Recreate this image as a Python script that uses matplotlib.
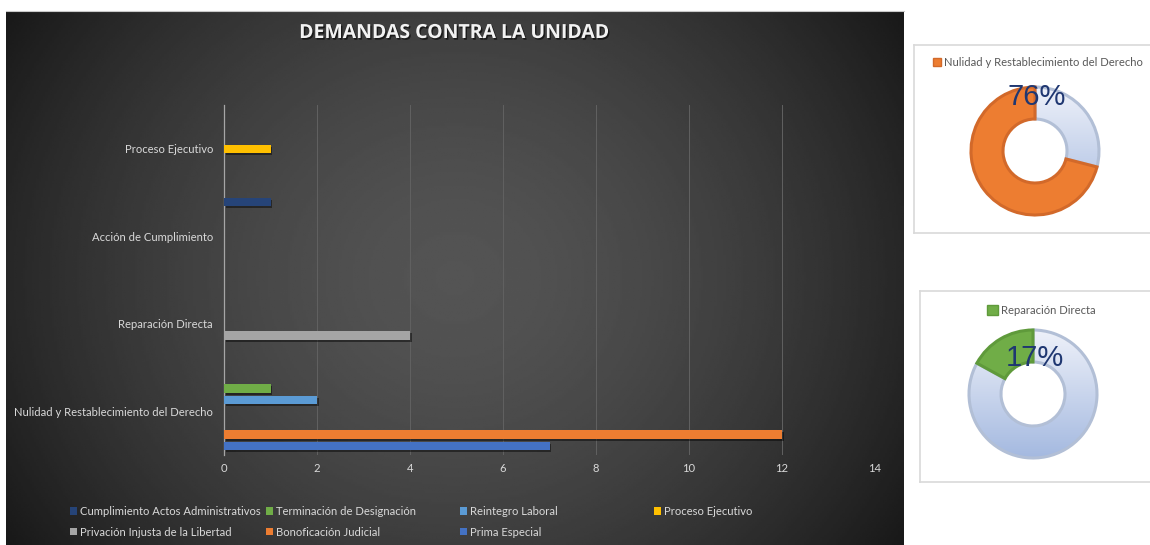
import numpy as np
import matplotlib
matplotlib.use("Agg")
import matplotlib.pyplot as plt
import matplotlib.patheffects as pe
from matplotlib.patches import Patch
from matplotlib.colors import LinearSegmentedColormap

# ---- data ----
categories = ['Nulidad y Restablecimiento del Derecho', 'Reparación Directa',
              'Acción de Cumplimiento', 'Proceso Ejecutivo']
# series in drawing order, bottom to top inside each category
series_names = ['Prima Especial', 'Bonoficación Judicial', 'Privación Injusta de la Libertad',
                'Proceso Ejecutivo', 'Reintegro Laboral', 'Terminación de Designación',
                'Cumplimiento Actos Administrativos']
prima = [7, 0, 0, 0]
bonificacion = [12, 0, 0, 0]
privacion = [0, 4, 0, 0]
proceso = [0, 0, 0, 1]
reintegro = [2, 0, 0, 0]
terminacion = [1, 0, 0, 0]
cumplimiento = [0, 0, 1, 0]
series_values = [prima, bonificacion, privacion, proceso, reintegro, terminacion, cumplimiento]
series_colors = ['#4472c4', '#ed7d31', '#a5a5a5', '#ffc000', '#5b9bd5', '#70ad47', '#264478']
x_ticks = [0, 2, 4, 6, 8, 10, 12, 14]

# legend columns (Excel order, row by row)
legend_cols = [['Cumplimiento Actos Administrativos', 'Privación Injusta de la Libertad'],
               ['Terminación de Designación', 'Bonoficación Judicial'],
               ['Reintegro Laboral', 'Prima Especial'],
               ['Proceso Ejecutivo']]

donut1_name = 'Nulidad y Restablecimiento del Derecho'
donut1_values = [29, 71]   # resto, Nulidad
donut1_text = '76%'
donut2_name = 'Reparación Directa'
donut2_values = [83, 17]   # resto, Reparación
donut2_text = '17%'

W, H = 1150, 545
FS = 8.1
plt.rcParams['font.family'] = ['Lato', 'DejaVu Sans']
fig = plt.figure(figsize=(W / 100, H / 100), dpi=100)
fig.patch.set_facecolor('white')


def fx(px):
    return px / W


def fy(py):
    return 1 - py / H


# ---- dark panel with radial gradient ----
bg = fig.add_axes([fx(6), 0, fx(904 - 6), 1 - 11 / H])
bg.set_zorder(-1)
gx, gy = np.meshgrid(np.linspace(-1, 1, 400), np.linspace(-1, 1, 240))
r = np.sqrt(gx ** 2 + (0.65 * gy) ** 2)
shade = (84 - 45 * r ** 1.6) / 255
bg.imshow(shade, cmap='gray', vmin=0, vmax=1, aspect='auto', extent=[0, 1, 0, 1])
bg.set_xticks([])
bg.set_yticks([])
for s in ['left', 'right', 'bottom']:
    bg.spines[s].set_visible(False)
bg.spines['top'].set_color('#c8c8c8')

fig.text(fx(455), fy(33), 'DEMANDAS CONTRA LA UNIDAD', ha='center', va='center',
         fontsize=14, fontweight='bold', color='#f2f2f2', family=['Open Sans', 'DejaVu Sans'],
         path_effects=[pe.withSimplePatchShadow(offset=(1, -1.2), shadow_rgbFace='black', alpha=0.6)])

# ---- bar chart ----
ax = fig.add_axes([fx(224), fy(455), fx(875 - 224), (455 - 105) / H])
ax.patch.set_alpha(0)
slot = 11.5 / 87.5
bar_h = 8.5 / 87.5
ypos = np.arange(len(categories))
for j, (name, vals, col) in enumerate(zip(series_names, series_values, series_colors)):
    ax.barh(ypos + (j - 3) * slot, vals, height=bar_h, color=col, linewidth=0, label=name,
            zorder=3,
            path_effects=[pe.withSimplePatchShadow(offset=(1.2, -1.5), shadow_rgbFace='black', alpha=0.45),
                          pe.Normal()])

ax.set_xlim(0, 14)
ax.set_ylim(-0.5, 3.5)
ax.set_xticks(x_ticks)
ax.set_yticks(ypos)
ax.set_yticklabels(categories)
ax.tick_params(axis='both', length=0, colors='#d9d9d9', labelsize=FS)
ax.tick_params(axis='y', pad=8)
ax.tick_params(axis='x', pad=6)
ax.grid(axis='x', color='#616161', linewidth=0.7, zorder=0)
for s in ['top', 'right', 'bottom']:
    ax.spines[s].set_visible(False)
ax.spines['left'].set_color('#a6a6a6')
ax.spines['left'].set_linewidth(0.9)

color_of = dict(zip(series_names, series_colors))
for i, (col_x, names) in enumerate(zip([70, 266, 460, 654], legend_cols)):
    handles = [Patch(facecolor=color_of[n], edgecolor='none') for n in names]
    fig.legend(handles, names, loc='upper left', bbox_to_anchor=(fx(col_x), fy(506)),
               frameon=False, fontsize=FS, labelcolor='#d9d9d9', handlelength=0.6,
               handleheight=0.6, handletextpad=0.3, labelspacing=0.85,
               borderpad=0, borderaxespad=0)

# ---- donut boxes ----
for (x0, y0, x1, y1) in [(914, 45, 1152, 233), (920, 291, 1152, 482)]:
    box = fig.add_axes([fx(x0), fy(y1), fx(x1 - x0), (y1 - y0) / H])
    box.set_facecolor('white')
    box.set_xticks([])
    box.set_yticks([])
    for s in box.spines.values():
        s.set_color('#d9d9d9')
        s.set_linewidth(1.2)

blue_cmap = LinearSegmentedColormap.from_list('blue_grad', ['#eef1f9', '#a4b9e0'])


def donut(cx, cy, values, main_color, main_edge, text, text_dy, name, leg_x, leg_y, square):
    rad = 64
    dax = fig.add_axes([fx(cx - rad * 1.05), fy(cy + rad * 1.05), fx(2 * rad * 1.05), 2 * rad * 1.05 / H])
    dax.axis('off')
    wedges, _ = dax.pie(values, colors=['none', main_color], startangle=90, counterclock=False,
                        radius=1, wedgeprops=dict(width=0.5, linewidth=2.2))
    wedges[0].set_edgecolor('#b2bfd6')
    wedges[1].set_edgecolor(main_edge)
    grad = np.linspace(0, 1, 256).reshape(-1, 1)
    im = dax.imshow(grad, cmap=blue_cmap, extent=[-1, 1, -1, 1], aspect='auto', zorder=0)
    im.set_clip_path(wedges[0])
    dax.set_xlim(-1.05, 1.05)
    dax.set_ylim(-1.05, 1.05)
    fig.text(fx(cx + 2), fy(cy - text_dy), text, ha='center', va='center', fontsize=21,
             color='#1f3771', family=['Liberation Sans', 'DejaVu Sans'], zorder=5)
    fig.legend([Patch(facecolor=main_color, edgecolor=main_edge)], [name], loc='center left',
               bbox_to_anchor=(fx(leg_x), fy(leg_y)), frameon=False, fontsize=FS,
               labelcolor='#595959', handlelength=square, handleheight=square,
               handletextpad=0.25, borderpad=0, borderaxespad=0)


donut(1035, 151, donut1_values, '#ed7d31', '#d2692a', donut1_text, 54, donut1_name, 933, 62, 0.7)
donut(1033, 394, donut2_values, '#70ad47', '#5f9a3b', donut2_text, 36, donut2_name, 987, 310, 1.0)

fig.savefig('out.png', dpi=100, facecolor='white')
